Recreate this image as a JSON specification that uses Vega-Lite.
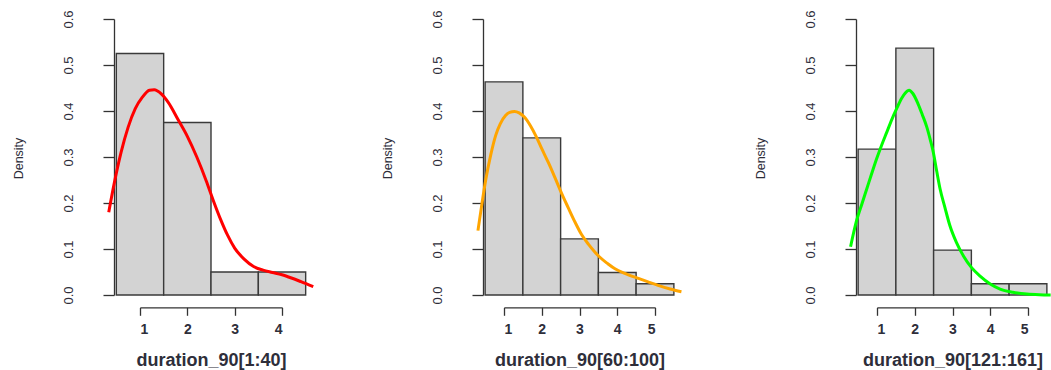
{
  "$schema": "https://vega.github.io/schema/vega-lite/v6.json",
  "background": "white",
  "padding": {"left": 12, "top": 9, "right": 0, "bottom": 0},
  "autosize": {"type": "pad"},
  "spacing": 222,
  "bounds": "flush",
  "config": {
    "view": {"stroke": null},
    "axis": {
      "grid": false,
      "domainColor": "#333333",
      "domainWidth": 1.3,
      "tickColor": "#333333",
      "tickWidth": 1.3,
      "labelColor": "#2e2e3a",
      "titleColor": "#2e2e3a",
      "labelFont": "Liberation Sans",
      "titleFont": "Liberation Sans",
      "labelOverlap": false
    },
    "axisY": {
      "tickSize": 11,
      "labelAngle": 270,
      "labelAlign": "center",
      "labelBaseline": "bottom",
      "labelPadding": 28,
      "labelFontSize": 13,
      "labelFontWeight": "normal",
      "titleFontSize": 12.5,
      "titleFontWeight": "normal",
      "titleAngle": 270,
      "titleAlign": "center",
      "titleBaseline": "middle",
      "titleX": -96,
      "titleY": 139,
      "format": ".1f"
    },
    "axisX": {
      "tickSize": 8,
      "labelPadding": 7,
      "labelFontSize": 14,
      "labelFontWeight": "bold",
      "titleFontSize": 18,
      "titleFontWeight": "bold",
      "titleBaseline": "alphabetic",
      "titleY": 58,
      "offset": 12.3
    }
  },
  "datasets": {
    "hist1": [
      {"bin_start": 0.5, "bin_end": 1.5, "density": 0.525},
      {"bin_start": 1.5, "bin_end": 2.5, "density": 0.375},
      {"bin_start": 2.5, "bin_end": 3.5, "density": 0.05},
      {"bin_start": 3.5, "bin_end": 4.5, "density": 0.05}
    ],
    "hist2": [
      {"bin_start": 0.5, "bin_end": 1.5, "density": 0.4634},
      {"bin_start": 1.5, "bin_end": 2.5, "density": 0.3415},
      {"bin_start": 2.5, "bin_end": 3.5, "density": 0.122},
      {"bin_start": 3.5, "bin_end": 4.5, "density": 0.0488},
      {"bin_start": 4.5, "bin_end": 5.5, "density": 0.0244}
    ],
    "hist3": [
      {"bin_start": 0.5, "bin_end": 1.5, "density": 0.3171},
      {"bin_start": 1.5, "bin_end": 2.5, "density": 0.5366},
      {"bin_start": 2.5, "bin_end": 3.5, "density": 0.0976},
      {"bin_start": 3.5, "bin_end": 4.5, "density": 0.0244},
      {"bin_start": 4.5, "bin_end": 5.5, "density": 0.0244}
    ],
    "curve1": [
      {"x": 0.34, "y": 0.18}, {"x": 0.45, "y": 0.24}, {"x": 0.6, "y": 0.31},
      {"x": 0.75, "y": 0.365}, {"x": 0.9, "y": 0.405}, {"x": 1.05, "y": 0.43},
      {"x": 1.2, "y": 0.445}, {"x": 1.3, "y": 0.446}, {"x": 1.45, "y": 0.437},
      {"x": 1.6, "y": 0.418}, {"x": 1.8, "y": 0.382}, {"x": 2.0, "y": 0.345},
      {"x": 2.2, "y": 0.3}, {"x": 2.4, "y": 0.248}, {"x": 2.55, "y": 0.205},
      {"x": 2.7, "y": 0.165}, {"x": 2.85, "y": 0.13}, {"x": 3.0, "y": 0.102},
      {"x": 3.2, "y": 0.078}, {"x": 3.4, "y": 0.062}, {"x": 3.6, "y": 0.054},
      {"x": 3.8, "y": 0.049}, {"x": 4.0, "y": 0.044}, {"x": 4.2, "y": 0.037},
      {"x": 4.4, "y": 0.029}, {"x": 4.66, "y": 0.018}
    ],
    "curve2": [
      {"x": 0.31, "y": 0.14}, {"x": 0.4, "y": 0.19}, {"x": 0.52, "y": 0.252},
      {"x": 0.65, "y": 0.305}, {"x": 0.78, "y": 0.347}, {"x": 0.9, "y": 0.372},
      {"x": 1.04, "y": 0.39}, {"x": 1.15, "y": 0.397}, {"x": 1.28, "y": 0.399},
      {"x": 1.4, "y": 0.396}, {"x": 1.54, "y": 0.387}, {"x": 1.7, "y": 0.368},
      {"x": 1.85, "y": 0.345}, {"x": 2.0, "y": 0.318}, {"x": 2.18, "y": 0.287},
      {"x": 2.35, "y": 0.255}, {"x": 2.52, "y": 0.222}, {"x": 2.7, "y": 0.19},
      {"x": 2.89, "y": 0.157}, {"x": 3.05, "y": 0.132}, {"x": 3.24, "y": 0.11},
      {"x": 3.4, "y": 0.094}, {"x": 3.54, "y": 0.082}, {"x": 3.75, "y": 0.068},
      {"x": 3.94, "y": 0.057}, {"x": 4.2, "y": 0.047}, {"x": 4.56, "y": 0.036},
      {"x": 4.8, "y": 0.029}, {"x": 5.08, "y": 0.021}, {"x": 5.4, "y": 0.013},
      {"x": 5.7, "y": 0.007}
    ],
    "curve3": [
      {"x": 0.3, "y": 0.105}, {"x": 0.46, "y": 0.162}, {"x": 0.6, "y": 0.198},
      {"x": 0.73, "y": 0.231}, {"x": 0.86, "y": 0.264}, {"x": 0.99, "y": 0.296},
      {"x": 1.12, "y": 0.325}, {"x": 1.26, "y": 0.354}, {"x": 1.4, "y": 0.383},
      {"x": 1.52, "y": 0.405}, {"x": 1.65, "y": 0.427}, {"x": 1.75, "y": 0.439},
      {"x": 1.85, "y": 0.445}, {"x": 1.95, "y": 0.438}, {"x": 2.09, "y": 0.415},
      {"x": 2.2, "y": 0.392}, {"x": 2.32, "y": 0.365}, {"x": 2.41, "y": 0.338},
      {"x": 2.49, "y": 0.311}, {"x": 2.58, "y": 0.27}, {"x": 2.67, "y": 0.231},
      {"x": 2.8, "y": 0.19}, {"x": 2.93, "y": 0.151}, {"x": 3.1, "y": 0.115},
      {"x": 3.29, "y": 0.085}, {"x": 3.5, "y": 0.06}, {"x": 3.73, "y": 0.041},
      {"x": 4.0, "y": 0.024}, {"x": 4.26, "y": 0.013}, {"x": 4.6, "y": 0.006},
      {"x": 4.97, "y": 0.002}, {"x": 5.3, "y": 0.0005}, {"x": 5.6, "y": 0.0}
    ]
  },
  "hconcat": [
    {
      "width": 142,
      "height": 276,
      "layer": [
        {
          "data": {"name": "hist1"},
          "mark": {"type": "rect", "fill": "#d3d3d3", "stroke": "#3a3a3a", "strokeWidth": 1.4},
          "encoding": {
            "x": {"field": "bin_start", "type": "quantitative",
                  "scale": {"domain": [1, 4], "nice": false, "zero": false},
                  "axis": {"values": [1, 2, 3, 4], "tickCount": 4, "title": "duration_90[1:40]"}},
            "x2": {"field": "bin_end"},
            "y": {"field": "density", "type": "quantitative",
                  "scale": {"domain": [0, 0.6], "nice": false, "zero": true},
                  "axis": {"title": "Density", "offset": 26, "values": [0, 0.1, 0.2, 0.3, 0.4, 0.5, 0.6]}},
            "y2": {"datum": 0}
          }
        },
        {
          "data": {"name": "curve1"},
          "mark": {"type": "line", "color": "#ff0000", "strokeWidth": 3, "interpolate": "monotone"},
          "encoding": {
            "x": {"field": "x", "type": "quantitative",
                  "axis": {"values": [1, 2, 3, 4], "tickCount": 4, "title": "duration_90[1:40]"}},
            "y": {"field": "y", "type": "quantitative",
                  "axis": {"title": "Density", "offset": 26, "values": [0, 0.1, 0.2, 0.3, 0.4, 0.5, 0.6]}}
          }
        }
      ]
    },
    {
      "width": 151,
      "height": 276,
      "layer": [
        {
          "data": {"name": "hist2"},
          "mark": {"type": "rect", "fill": "#d3d3d3", "stroke": "#3a3a3a", "strokeWidth": 1.4},
          "encoding": {
            "x": {"field": "bin_start", "type": "quantitative",
                  "scale": {"domain": [1, 5], "nice": false, "zero": false},
                  "axis": {"values": [1, 2, 3, 4, 5], "tickCount": 5, "title": "duration_90[60:100]"}},
            "x2": {"field": "bin_end"},
            "y": {"field": "density", "type": "quantitative",
                  "scale": {"domain": [0, 0.6], "nice": false, "zero": true},
                  "axis": {"title": "Density", "offset": 21, "values": [0, 0.1, 0.2, 0.3, 0.4, 0.5, 0.6]}},
            "y2": {"datum": 0}
          }
        },
        {
          "data": {"name": "curve2"},
          "mark": {"type": "line", "color": "#ffa500", "strokeWidth": 3, "interpolate": "monotone"},
          "encoding": {
            "x": {"field": "x", "type": "quantitative",
                  "axis": {"values": [1, 2, 3, 4, 5], "tickCount": 5, "title": "duration_90[60:100]"}},
            "y": {"field": "y", "type": "quantitative",
                  "axis": {"title": "Density", "offset": 21, "values": [0, 0.1, 0.2, 0.3, 0.4, 0.5, 0.6]}}
          }
        }
      ]
    },
    {
      "width": 151,
      "height": 276,
      "layer": [
        {
          "data": {"name": "hist3"},
          "mark": {"type": "rect", "fill": "#d3d3d3", "stroke": "#3a3a3a", "strokeWidth": 1.4},
          "encoding": {
            "x": {"field": "bin_start", "type": "quantitative",
                  "scale": {"domain": [1, 5], "nice": false, "zero": false},
                  "axis": {"values": [1, 2, 3, 4, 5], "tickCount": 5, "title": "duration_90[121:161]"}},
            "x2": {"field": "bin_end"},
            "y": {"field": "density", "type": "quantitative",
                  "scale": {"domain": [0, 0.6], "nice": false, "zero": true},
                  "axis": {"title": "Density", "offset": 21, "values": [0, 0.1, 0.2, 0.3, 0.4, 0.5, 0.6]}},
            "y2": {"datum": 0}
          }
        },
        {
          "data": {"name": "curve3"},
          "mark": {"type": "line", "color": "#00ff00", "strokeWidth": 3, "interpolate": "monotone"},
          "encoding": {
            "x": {"field": "x", "type": "quantitative",
                  "axis": {"values": [1, 2, 3, 4, 5], "tickCount": 5, "title": "duration_90[121:161]"}},
            "y": {"field": "y", "type": "quantitative",
                  "axis": {"title": "Density", "offset": 21, "values": [0, 0.1, 0.2, 0.3, 0.4, 0.5, 0.6]}}
          }
        }
      ]
    }
  ]
}
